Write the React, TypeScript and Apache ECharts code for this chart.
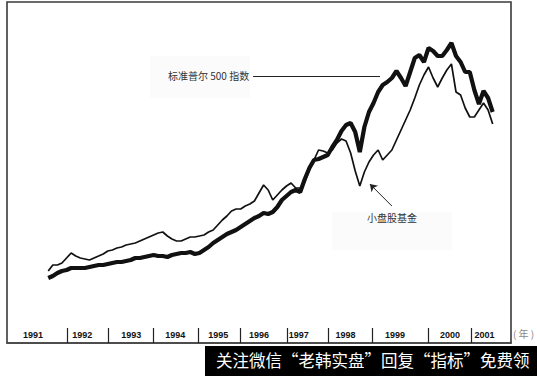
import React, { useEffect, useRef } from "react";
import * as echarts from "echarts";

// Sampling times: every 0.1 year starting late 1991
const startYear = 1991.9;
const step = 0.1;

// S&P 500 index (thick line), index level
const sp500 = [
  325, 335, 350, 360, 365, 375, 375, 375, 375, 380,
  385, 390, 390, 395, 400, 405, 405, 410, 415, 425,
  425, 430, 435, 440, 435, 435, 430, 440, 445, 450,
  450, 455, 445, 450, 465, 480, 500, 515, 530, 545,
  555, 565, 580, 595, 610, 625, 635, 650, 645, 655,
  680, 715, 735, 755, 765, 755, 820, 875, 915, 920,
  930, 940, 980, 1015, 1060, 1090, 1100, 1055, 955, 1080,
  1155, 1200, 1255, 1290, 1305, 1325, 1360, 1325, 1285, 1355,
  1425, 1440, 1405, 1475, 1460, 1435, 1435, 1465, 1500, 1435,
  1405, 1355, 1355, 1265, 1195, 1260, 1225, 1155,
];

// Small-cap fund (thin line)
const smallCap = [
  360, 390, 390, 400, 425, 450, 435, 425, 420, 415,
  425, 435, 445, 460, 465, 475, 480, 490, 495, 500,
  510, 520, 530, 540, 550, 555, 535, 520, 510, 510,
  520, 530, 530, 535, 540, 555, 565, 590, 615, 635,
  660, 670, 670, 685, 695, 710, 750, 790, 765, 715,
  740, 765, 785, 800, 775, 775, 805, 865, 915, 965,
  960, 950, 965, 1000, 1020, 1010, 950, 860, 785, 855,
  905, 940, 965, 915, 940, 965, 1015, 1065, 1115, 1165,
  1225, 1290, 1340, 1380, 1325, 1280, 1325, 1365, 1395, 1255,
  1240, 1175, 1130, 1130, 1165, 1200, 1165, 1095,
];

// Year band separators and label positions (fractional years)
const yearEdges = [1992.31, 1993.2, 1994.19, 1995.17, 1996.09, 1997.11, 1998.01, 1998.97, 2000.19, 2001.13];
const yearLabelPos = [1991.57, 1992.64, 1993.71, 1994.67, 1995.61, 1996.5, 1997.37, 1998.39, 1999.47, 2000.67, 2001.42];

const spLabel = "标准普尔 500 指数";
const scLabel = "小盘股基金";
const unitLabel = "( 年 )";
const bannerText = "关注微信“老韩实盘”回复“指标”免费领";

export default function App() {
  const ref = useRef<HTMLDivElement>(null);
  useEffect(() => {
    if (!ref.current) return;
    const chart = echarts.init(ref.current, null, { renderer: "svg" });
    const times = sp500.map((_, i) => +(startYear + i * step).toFixed(2));
    const spData = sp500.map((v, i) => [times[i], v]);
    const scData = smallCap.map((v, i) => [times[i], v]);
    chart.setOption({
      animation: false,
      backgroundColor: "#fff",
      grid: {
        left: 7,
        right: 26,
        top: 2,
        bottom: 33,
        show: true,
        borderColor: "#3a3a3a",
        borderWidth: 1.6,
      },
      xAxis: {
        type: "value",
        min: 1991,
        max: 2002,
        splitLine: { show: false },
        axisLine: { show: true, lineStyle: { color: "#444", width: 1.5 } },
        axisTick: {
          show: true,
          inside: true,
          length: 15,
          customValues: yearEdges,
          lineStyle: { color: "#222", width: 1.2 },
        },
        axisLabel: {
          show: true,
          inside: true,
          margin: 4,
          customValues: yearLabelPos,
          formatter: (v: number) => String(Math.floor(v)),
          color: "#111",
          fontSize: 9,
          fontWeight: "bold",
          fontFamily: "'Liberation Sans Narrow', 'Arial Narrow', sans-serif",
        },
      },
      yAxis: {
        type: "value",
        min: 0,
        max: 1705,
        show: false,
        splitLine: { show: false },
      },
      series: [
        {
          type: "line",
          name: scLabel,
          data: scData,
          showSymbol: false,
          symbol: "none",
          lineStyle: { color: "#111", width: 1.7 },
          z: 2,
          markLine: {
            silent: true,
            symbol: ["none", "arrow"],
            symbolSize: 7,
            label: { show: false },
            lineStyle: { color: "#222", width: 1, type: "solid" },
            data: [[{ coord: [1999.4, 685] }, { coord: [1998.92, 795] }]],
          },
        },
        {
          type: "line",
          name: spLabel,
          data: spData,
          showSymbol: false,
          symbol: "none",
          lineStyle: { color: "#111", width: 4.2 },
          z: 3,
          markLine: {
            silent: true,
            symbol: ["none", "none"],
            label: { show: false },
            lineStyle: { color: "#222", width: 1, type: "solid" },
            data: [[{ coord: [1996.37, 1335] }, { coord: [1999.14, 1335] }]],
          },
        },
      ],
      graphic: [
        { type: "rect", left: 150, top: 56, shape: { width: 100, height: 42 }, style: { fill: "#fbfbfb" }, z: -1 },
        { type: "rect", left: 332, top: 212, shape: { width: 120, height: 38 }, style: { fill: "#fbfbfb" }, z: -1 },
        {
          type: "text",
          left: 168,
          top: 70,
          style: { text: spLabel, fill: "#333", fontSize: 10, fontFamily: "'Noto Sans CJK SC', sans-serif" },
        },
        {
          type: "text",
          left: 367,
          top: 212,
          style: { text: scLabel, fill: "#333", fontSize: 10, fontFamily: "'Noto Sans CJK SC', sans-serif" },
        },
        {
          type: "text",
          left: 513,
          top: 328,
          style: { text: unitLabel, fill: "#888", fontSize: 10, fontFamily: "'Noto Sans CJK SC', sans-serif" },
        },
        { type: "rect", left: 205, top: 346, shape: { width: 332, height: 30 }, style: { fill: "#000" } },
        {
          type: "text",
          left: 216,
          top: 352,
          style: { text: bannerText, fill: "#fff", fontSize: 16.5, fontFamily: "'Noto Sans CJK SC', sans-serif" },
        },
      ],
    });
    return () => chart.dispose();
  }, []);
  return (
    <div
      ref={ref}
      style={{ position: "fixed", left: 0, top: 0, width: 537, height: 376, background: "#fff" }}
    />
  );
}
